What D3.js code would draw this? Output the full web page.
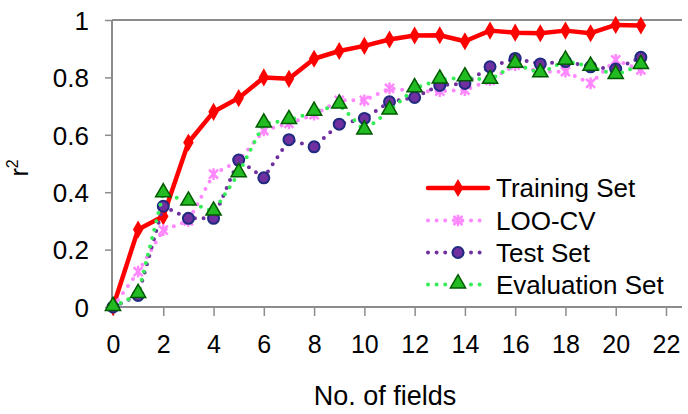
<!DOCTYPE html>
<html>
<head>
<meta charset="utf-8">
<script src="https://cdn.jsdelivr.net/npm/d3@7"></script>
<style>
  html, body { margin: 0; padding: 0; background: #fff; }
  svg { display: block; font-family: "Liberation Sans", Arial, sans-serif; }
</style>
</head>
<body>
<svg id="chart" width="688" height="414"></svg>
<script>
const fields = d3.range(0, 22);
const trainingSet = [0, 0.27, 0.316, 0.573, 0.68, 0.728, 0.8, 0.795, 0.865, 0.892, 0.91, 0.932, 0.946, 0.947, 0.926, 0.963, 0.956, 0.954, 0.963, 0.954, 0.983, 0.981];
const looCV       = [0, 0.123, 0.268, 0.30, 0.463, 0.51, 0.615, 0.64, 0.67, 0.72, 0.72, 0.762, 0.752, 0.752, 0.756, 0.79, 0.843, 0.82, 0.82, 0.779, 0.861, 0.826];
const testSet     = [0, 0.04, 0.351, 0.309, 0.309, 0.512, 0.45, 0.583, 0.558, 0.637, 0.657, 0.715, 0.73, 0.772, 0.779, 0.837, 0.866, 0.847, 0.855, 0.837, 0.829, 0.87];
const evalSet     = [0, 0.045, 0.396, 0.367, 0.332, 0.466, 0.639, 0.651, 0.68, 0.705, 0.615, 0.684, 0.762, 0.792, 0.8, 0.791, 0.847, 0.814, 0.858, 0.837, 0.808, 0.843];
const seriesNames = ["Training Set", "LOO-CV", "Test Set", "Evaluation Set"];
const xTicks = d3.range(0, 23, 2);
const yTicks = [0, 0.2, 0.4, 0.6, 0.8, 1];

const svg = d3.select("#chart");
const x = d3.scaleLinear().domain([0, 22]).range([113, 666]);
const y = d3.scaleLinear().domain([0, 1]).range([307, 20]);
const axisColor = "#8c8c8c";
const textColor = "#000";

// top border line
svg.append("line").attr("x1", 112).attr("x2", 682).attr("y1", y(1)).attr("y2", y(1))
  .attr("stroke", axisColor).attr("stroke-width", 2);

// x axis
const gx = svg.append("g").attr("transform", `translate(0,${y(0)})`)
  .call(d3.axisBottom(x).tickValues(xTicks).tickSize(9).tickSizeOuter(0).tickFormat(d3.format("d")));
gx.select(".domain").attr("d", "M112,0H682").attr("stroke", axisColor).attr("stroke-width", 2);
gx.selectAll(".tick line").attr("stroke", axisColor).attr("stroke-width", 1.5);
gx.selectAll(".tick text").attr("y", 46).attr("dy", 0).attr("fill", textColor)
  .style("font-size", "25px").style("font-family", "'Liberation Sans', Arial, sans-serif");

// y axis
const gy = svg.append("g").attr("transform", "translate(112,0)")
  .call(d3.axisLeft(y).tickValues(yTicks).tickSize(7).tickSizeOuter(0).tickFormat(d => d === 0 || d === 1 ? String(d) : d3.format(".1f")(d)));
gy.select(".domain").attr("d", `M0,${y(0)}V${y(1)}`).attr("stroke", axisColor).attr("stroke-width", 2);
gy.selectAll(".tick line").attr("stroke", axisColor).attr("stroke-width", 1.5);
gy.selectAll(".tick text").attr("x", -23).attr("dy", "0.36em").attr("fill", textColor)
  .style("font-size", "26px").style("font-family", "'Liberation Sans', Arial, sans-serif");

// axis titles
svg.append("text").attr("x", 385).attr("y", 405).attr("text-anchor", "middle")
  .style("font-size", "27px").attr("fill", textColor).text("No. of fields");
const yt = svg.append("text").attr("transform", "translate(28,168) rotate(-90)")
  .attr("text-anchor", "middle").attr("fill", textColor).style("font-size", "25px");
yt.append("tspan").text("r");
yt.append("tspan").attr("dy", -10).style("font-size", "16px").text("2");

// series config
const starPath = (s) => `M${-s},${-s}L${s},${s}M${-s},${s}L${s},${-s}M0,${-s*1.3}L0,${s*1.3}`;
const series = [
  { name: seriesNames[0], values: trainingSet, color: "#ff0000", width: 4.5, dash: null,
    marker: g => g.append("path").attr("d", d3.symbol(d3.symbolDiamond, 95)()).attr("fill", "#ff0000") },
  { name: seriesNames[1], values: looCV, color: "#ff88ff", width: 4, dash: "0 8.6",
    marker: g => g.append("path").attr("d", starPath(4.5)).attr("stroke", "#ff88ff").attr("stroke-width", 2.5).attr("fill", "none") },
  { name: seriesNames[2], values: testSet, color: "#7030a0", width: 4, dash: "0 8.6",
    marker: g => g.append("circle").attr("r", 5.5).attr("fill", "#7030a0").attr("stroke", "#1f2a80").attr("stroke-width", 2) },
  { name: seriesNames[3], values: evalSet, color: "#33ee55", width: 4, dash: "0 8.6",
    marker: g => g.append("path").attr("d", d3.symbol(d3.symbolTriangle, 100)()).attr("transform", "translate(0,-1)")
      .attr("fill", "#22bb22").attr("stroke", "#005a00").attr("stroke-width", 1.5) }
];

const line = d3.line().x((d, i) => x(fields[i])).y(d => y(d));
series.forEach(s => {
  const p = svg.append("path").datum(s.values).attr("d", line)
    .attr("fill", "none").attr("stroke", s.color).attr("stroke-width", s.width)
    .attr("stroke-linejoin", "round").attr("stroke-linecap", "round");
  if (s.dash) p.attr("stroke-dasharray", s.dash);
  s.values.forEach((v, i) => {
    const g = svg.append("g").attr("transform", `translate(${x(fields[i])},${y(v)})`);
    s.marker(g);
  });
});

// legend
const legendY = [188, 220.5, 252.5, 284.5];
series.forEach((s, k) => {
  const ly = legendY[k];
  const p = svg.append("line").attr("x1", 428).attr("x2", 488).attr("y1", ly).attr("y2", ly)
    .attr("stroke", s.color).attr("stroke-width", s.width).attr("stroke-linecap", "round");
  if (s.dash) p.attr("stroke-dasharray", s.dash);
  const g = svg.append("g").attr("transform", `translate(458,${ly})`);
  s.marker(g);
  svg.append("text").attr("x", 496).attr("y", ly + 9).attr("fill", textColor)
    .style("font-size", "26px").text(s.name);
});
</script>
</body>
</html>
